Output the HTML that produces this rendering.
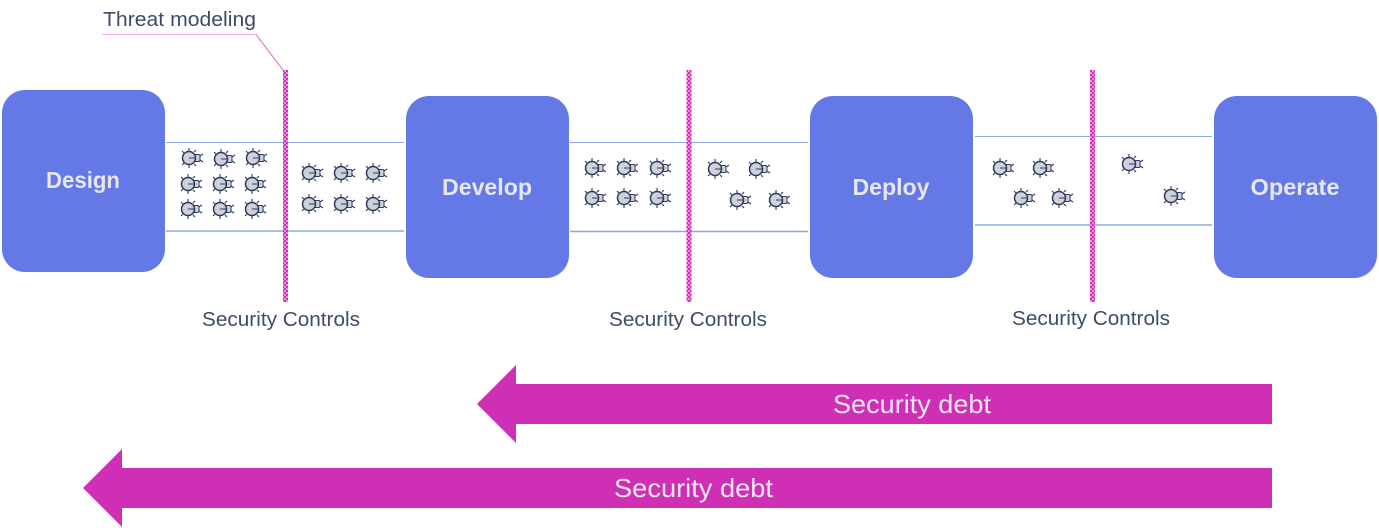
<!DOCTYPE html>
<html>
<head>
<meta charset="utf-8">
<style>
html,body{margin:0;padding:0;background:#fff;}
svg{display:block;}
text{font-family:"Liberation Sans",sans-serif;}
.n{font-size:23px;font-weight:bold;fill:#e6e7f0;text-anchor:middle;}
.c{font-size:20px;fill:#3d4d68;}
.d{font-size:26px;fill:#f6e6f3;}
.l{stroke:#8ba8e0;fill:none;}
</style>
</head>
<body>
<svg width="1379" height="528" viewBox="0 0 1379 528" xmlns="http://www.w3.org/2000/svg">
<defs>
<pattern id="p" width="4" height="4" patternUnits="userSpaceOnUse">
<rect width="4" height="4" fill="#ee8fdc"/>
<rect width="2" height="2" fill="#d22cb8"/>
<rect x="2" y="2" width="2" height="2" fill="#d22cb8"/>
</pattern>
<g id="b">
<g stroke="#2d3a5c" stroke-width="1.100" fill="none">
<path d="M-3,-7 V-10 M-8,-5 L-10,-7 M-8,5 L-10,7 M-3,7 V10 M2,-6 L4,-8 M2,6 L4,8 M8,-2 L11,-4 M8,2 L11,4"/>
</g>
<rect x="2" y="-3.500" width="6" height="7" rx="1.500" fill="#cdd1da" stroke="#2d3a5c" stroke-width="1"/>
<circle cx="-3" cy="0" r="6.500" fill="#cdd1da" stroke="#2d3a5c" stroke-width="1.500"/>
<path d="M-3,0 H3" stroke="#2d3a5c" stroke-width="1"/>
</g>
</defs>

<rect x="2" y="90" width="163" height="182" rx="23" fill="#6478e6"/>
<rect x="406" y="96" width="163" height="182" rx="23" fill="#6478e6"/>
<rect x="810" y="96" width="163" height="182" rx="23" fill="#6478e6"/>
<rect x="1214" y="96" width="163" height="182" rx="23" fill="#6478e6"/>

<text class="n" x="83" y="188" textLength="74" lengthAdjust="spacingAndGlyphs">Design</text>
<text class="n" x="487" y="195" textLength="90" lengthAdjust="spacingAndGlyphs">Develop</text>
<text class="n" x="891" y="195" textLength="77" lengthAdjust="spacingAndGlyphs">Deploy</text>
<text class="n" x="1295" y="195" textLength="89" lengthAdjust="spacingAndGlyphs">Operate</text>

<path class="l" stroke-width="1" d="M166,142.500H404M570,142.500H808M975,136.500H1212"/>
<path class="l" stroke-width="1.500" d="M166,231H404M570,231.500H808M975,225H1212"/>

<rect x="283" y="70" width="5" height="232" fill="url(#p)"/>
<rect x="686.500" y="70" width="5" height="232" fill="url(#p)"/>
<rect x="1090" y="70" width="5" height="232" fill="url(#p)"/>

<path d="M102,34.500H256" fill="none" stroke="#f3aee8" stroke-width="1"/>
<path d="M256,34.500L283,70" fill="none" stroke="#dd5cc8" stroke-width="1"/>
<text class="c" x="103" y="26" textLength="153" lengthAdjust="spacingAndGlyphs">Threat modeling</text>

<text class="c" x="202" y="326" textLength="158" lengthAdjust="spacingAndGlyphs">Security Controls</text>
<text class="c" x="609" y="326" textLength="158" lengthAdjust="spacingAndGlyphs">Security Controls</text>
<text class="c" x="1012" y="325" textLength="158" lengthAdjust="spacingAndGlyphs">Security Controls</text>

<use href="#b" x="192" y="158"/><use href="#b" x="224" y="159"/><use href="#b" x="256" y="158"/>
<use href="#b" x="191" y="184"/><use href="#b" x="223" y="184"/><use href="#b" x="255" y="184"/>
<use href="#b" x="191" y="209"/><use href="#b" x="223" y="209"/><use href="#b" x="255" y="209"/>
<use href="#b" x="312" y="173"/><use href="#b" x="344" y="173"/><use href="#b" x="376" y="173"/>
<use href="#b" x="312" y="204"/><use href="#b" x="344" y="204"/><use href="#b" x="376" y="204"/>

<use href="#b" x="595" y="168"/><use href="#b" x="627" y="168"/><use href="#b" x="660" y="168"/>
<use href="#b" x="595" y="198"/><use href="#b" x="627" y="198"/><use href="#b" x="660" y="198"/>
<use href="#b" x="718" y="169"/><use href="#b" x="759" y="169"/>
<use href="#b" x="740" y="200"/><use href="#b" x="779" y="200"/>

<use href="#b" x="1003" y="168"/><use href="#b" x="1043" y="168"/>
<use href="#b" x="1024" y="198"/><use href="#b" x="1062" y="198"/>
<use href="#b" x="1132" y="164"/><use href="#b" x="1174" y="196"/>

<path d="M477,404L516,365V384H1272V424H516V443Z" fill="#cf2fb4"/>
<path d="M83,488L122,449V468H1272V508H122V527Z" fill="#cf2fb4"/>
<text class="d" x="833" y="413" textLength="158" lengthAdjust="spacingAndGlyphs">Security debt</text>
<text class="d" x="614" y="497" textLength="159" lengthAdjust="spacingAndGlyphs">Security debt</text>
</svg>
</body>
</html>
